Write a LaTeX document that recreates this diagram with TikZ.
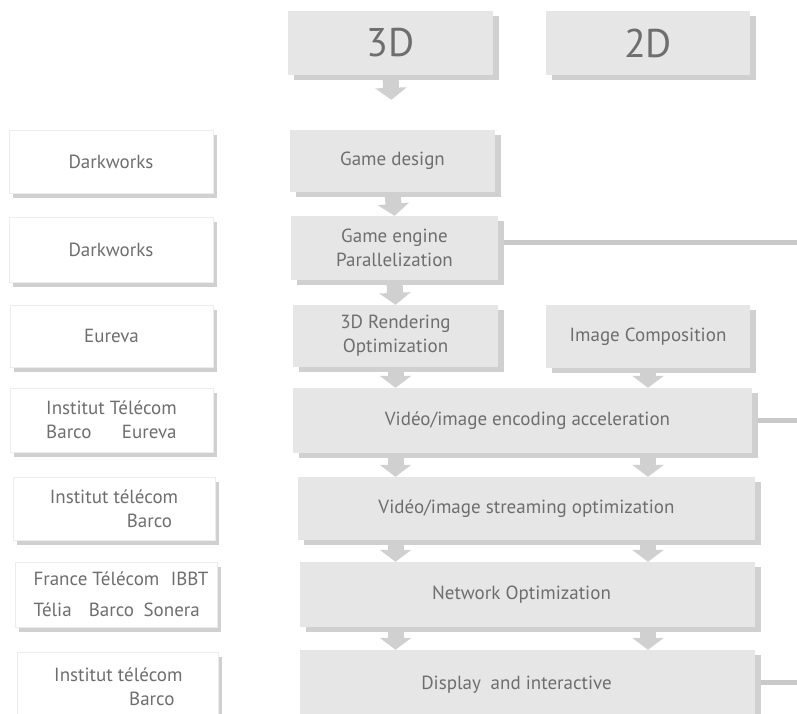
\documentclass[tikz,border=0pt]{standalone}
\usepackage{fontspec}
\setmainfont{PT Sans}
\usetikzlibrary{shadows,arrows.meta,backgrounds,calc}
\definecolor{boxgray}{HTML}{E6E6E6}
\definecolor{shadgray}{HTML}{D0D0D0}
\definecolor{txtgray}{HTML}{6E6E6E}
\definecolor{linegray}{HTML}{C9C9C9}
\definecolor{edgegray}{HTML}{EDEDED}
\tikzset{
  gbox/.style={rectangle, fill=boxgray, inner sep=0pt, text=txtgray, align=center,
    font=\fontsize{19}{24}\selectfont,
    general shadow={fill=shadgray, shadow xshift=6pt, shadow yshift=-5pt}},
  lbox/.style={rectangle, draw=edgegray, line width=0.8pt, fill=white, inner sep=0pt, text=txtgray, align=center,
    font=\fontsize{19}{24}\selectfont,
    general shadow={fill=shadgray, shadow xshift=4pt, shadow yshift=-5pt}},
  bigtxt/.style={font=\fontsize{40}{42}\selectfont},
  arr/.style={draw=shadgray, line width=16pt, -{Triangle[width=31pt,length=12pt]}},
  conn/.style={draw=linegray, line width=5pt},
}
\begin{document}
\begin{tikzpicture}[x=1pt,y=-1pt]
\clip (0,0) rectangle (797,713);
% central column
\node[gbox, bigtxt, minimum width=205pt, minimum height=64pt] (td) at (390.5,43) {3D};
\node[gbox, bigtxt, minimum width=204pt, minimum height=64pt] (twd) at (648,43) {2D};
\node[gbox, minimum width=205pt, minimum height=62pt] (gd) at (392.5,161) {Game design};
\node[gbox, minimum width=207pt, minimum height=64pt] (ge) at (394.5,248) {Game engine\\Parallelization};
\node[gbox, minimum width=205pt, minimum height=62pt] (rend) at (395.5,336) {3D Rendering\\Optimization};
\node[gbox, minimum width=204pt, minimum height=63pt] (ic) at (648,336.5) {Image Composition};
\node[gbox, minimum width=459pt, minimum height=65pt] (enc) at (522.5,420.5) {\hspace*{10pt}Vidéo/image encoding acceleration};
\node[gbox, minimum width=457pt, minimum height=63pt] (str) at (526.5,508.5) {Vidéo/image streaming optimization};
\node[gbox, minimum width=455pt, minimum height=65pt] (net) at (527.5,594.5) {\hspace*{-12pt}Network Optimization};
\node[gbox, minimum width=455pt, minimum height=70pt] (disp) at (527.5,685) {\hspace*{-22pt}\raisebox{5pt}{Display\hspace{0.25em} and interactive}};
% left column
\node[lbox, minimum width=204pt, minimum height=63pt] (l1) at (111,161.5) {Darkworks};
\node[lbox, minimum width=204pt, minimum height=65pt] (l2) at (111,249.5) {Darkworks};
\node[lbox, minimum width=203pt, minimum height=62pt] (l3) at (111.5,336) {Eureva};
\node[lbox, minimum width=203pt, minimum height=64pt, align=left] (l4) at (111.5,420) {Institut Télécom\\Barco\hspace{1.6em}Eureva};
\node[lbox, minimum width=202pt, minimum height=63pt, align=right] (l5) at (114,508.5) {Institut télécom\\Barco\hspace*{6pt}};
\node[lbox, minimum width=202pt, minimum height=65pt, align=left] (l6) at (116,594.5) {\hspace*{10pt}France Télécom\hspace{0.6em}IBBT\\[7pt]\hspace*{10pt}Télia\hspace{0.9em}Barco\hspace{0.5em}Sonera};
\node[lbox, minimum width=201pt, minimum height=70pt, align=right] (l7) at (117.5,687) {\raisebox{5pt}{\parbox{130pt}{\raggedleft Institut télécom\\Barco\hspace*{8pt}}}};
% free ends of the side lines
\coordinate (e1) at (797,242);
\coordinate (e2) at (797,420);
\coordinate (e3) at (797,682);
\begin{scope}[on background layer]
\fill[white] (0,0) rectangle (797,713);
\draw[conn] (ge.east |- e1) -- (e1);
\draw[conn] (enc.east |- e2) -- (e2);
\draw[conn] (disp.east |- e3) -- (e3);
\draw[arr, shorten >=30pt] (td.south) -- (gd.north);
\draw[arr] (gd.south) -- (ge.north);
\draw[arr] (ge.south) -- (rend.north);
\draw[arr] (rend.south) -- (enc.north -| rend);
\draw[arr] (ic.south) -- (enc.north -| ic);
\draw[arr] (enc.south -| rend) -- (str.north -| rend);
\draw[arr] (enc.south -| ic) -- (str.north -| ic);
\draw[arr] (str.south -| rend) -- (net.north -| rend);
\draw[arr] (str.south -| ic) -- (net.north -| ic);
\draw[arr] (net.south -| rend) -- (disp.north -| rend);
\draw[arr] (net.south -| ic) -- (disp.north -| ic);
\end{scope}
\end{tikzpicture}
\end{document}
